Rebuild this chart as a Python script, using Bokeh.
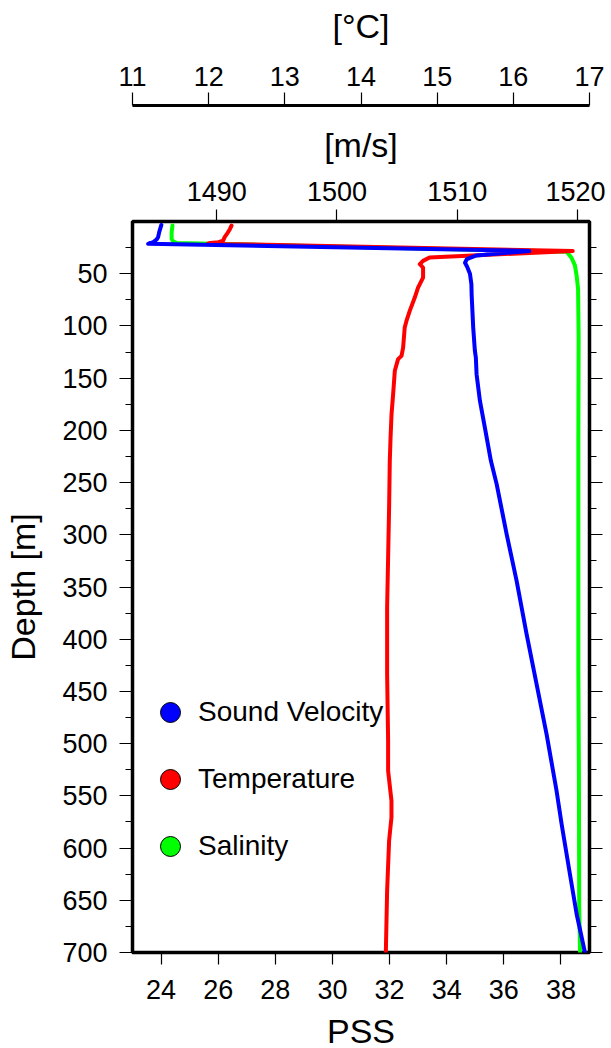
import numpy as np
from bokeh.plotting import figure
from bokeh.models import (Range1d, LinearAxis, FixedTicker, Legend, LegendItem,
                          ColumnDataSource)
from bokeh.embed import file_html
from bokeh.resources import INLINE

# ---------------- data ----------------
depth_sv = [3.3, 10.2, 15.0, 17.3, 19.8, 21.4, 28.2, 32.5, 36.0, 39.5, 44.0, 50.0,
            60.0, 70.0, 101.6, 123.9, 130.3, 146.2, 171.8, 197.3, 210.0, 229.2,
            251.5, 299.3, 344.1, 395.1, 443.0, 490.8, 545.1, 577.0, 624.8, 663.1, 700.0]
sound_velocity = [1485.40, 1485.22, 1485.13, 1485.00, 1484.73, 1484.30, 1516.00, 1511.60,
                  1510.80, 1510.65, 1510.85, 1511.06, 1511.18, 1511.20, 1511.33, 1511.47,
                  1511.55, 1511.61, 1511.89, 1512.30, 1512.50, 1512.80, 1513.28, 1514.11,
                  1514.94, 1515.77, 1516.60, 1517.43, 1518.26, 1518.68, 1519.37, 1519.93,
                  1520.62]

depth_t = [3.9, 7.1, 11.9, 15.0, 18.3, 19.8, 20.5, 21.2, 28.3, 34.4, 37.7, 40.9, 44.1,
           53.7, 63.3, 72.8, 85.6, 95.2, 101.6, 120.7, 128.7, 131.8, 143.0, 165.3, 184.5,
           206.9, 229.2, 273.9, 369.6, 433.4, 497.2, 525.9, 554.6, 570.6, 592.9, 640.8, 700.0]
temperature = [12.30, 12.28, 12.24, 12.21, 12.19, 12.13, 12.02, 11.99, 16.78, 14.90,
               14.815, 14.772, 14.815, 14.815, 14.749, 14.706, 14.640, 14.597, 14.574,
               14.553, 14.532, 14.487, 14.444, 14.422, 14.401, 14.388, 14.378, 14.369,
               14.343, 14.343, 14.356, 14.356, 14.400, 14.400, 14.369, 14.343, 14.326]

depth_s = [3.9, 10.2, 16.7, 19.2, 20.5, 28.9, 34.7, 42.0, 52.0, 64.5, 110.0, 210.0,
           430.0, 530.0, 657.0, 700.0]
salinity = [24.40, 24.37, 24.37, 24.43, 24.55, 38.20, 38.37, 38.49, 38.55, 38.60, 38.62,
            38.61, 38.61, 38.63, 38.64, 38.67]

pss_ticks = [24, 26, 28, 30, 32, 34, 36, 38]
vel_ticks = [1490, 1500, 1510, 1520]
temp_ticks = [11, 12, 13, 14, 15, 16, 17]
depth_ticks = list(range(50, 701, 50))
depth_minor = list(range(25, 700, 50))

series_labels = ["Sound Velocity", "Temperature", "Salinity"]
series_colors = ["#0000ff", "#ff0000", "#00ff00"]

# ---------------- figure ----------------
FONT = "Liberation Sans"
TICK_SIZE = "27px"
LABEL_SIZE = "34px"

p = figure(frame_width=457, frame_height=731,
           x_range=Range1d(23, 39), y_range=Range1d(700, 0),
           output_backend="svg", toolbar_location=None,
           min_border_left=132, min_border_right=16,
           min_border_top=221, min_border_bottom=0,
           x_axis_location="below", y_axis_location="left")
p.extra_x_ranges = {"vel": Range1d(1483, 1521), "temp": Range1d(11, 17)}
p.xgrid.visible = False
p.ygrid.visible = False
p.outline_line_color = "black"
p.outline_line_width = 3.5
p.outline_line_alpha = 1.0
p.background_fill_color = "white"
p.border_fill_color = "white"


def style_axis(ax, tick_out=12, minor_out=0):
    ax.axis_line_color = None
    ax.major_tick_in = 0
    ax.major_tick_out = tick_out
    ax.minor_tick_in = 0
    ax.minor_tick_out = minor_out
    ax.major_tick_line_color = "black"
    ax.major_tick_line_width = 1.2
    ax.minor_tick_line_color = "black" if minor_out else None
    ax.minor_tick_line_width = 1.2
    ax.major_label_text_font = FONT
    ax.major_label_text_font_size = TICK_SIZE
    ax.major_label_text_color = "black"
    ax.axis_label_text_font = FONT
    ax.axis_label_text_font_size = LABEL_SIZE
    ax.axis_label_text_font_style = "normal"
    ax.axis_label_text_color = "black"


# bottom (PSS)
xb = p.xaxis[0]
xb.ticker = FixedTicker(ticks=pss_ticks)
style_axis(xb, 12)
xb.axis_label = "PSS"
xb.major_label_standoff = 15
xb.axis_label_standoff = 10

# left (depth)
yl = p.yaxis[0]
yl.ticker = FixedTicker(ticks=depth_ticks, minor_ticks=depth_minor)
style_axis(yl, 13, 7)
yl.axis_label = "Depth [m]"
yl.major_label_standoff = 12
yl.axis_label_standoff = 17

# right (ticks only)
yr = LinearAxis(ticker=FixedTicker(ticks=depth_ticks, minor_ticks=depth_minor))
style_axis(yr, 13, 7)
yr.major_label_overrides = {t: "" for t in depth_ticks}
yr.major_label_standoff = 0
p.add_layout(yr, "right")

# top: sound velocity
ax_vel = LinearAxis(x_range_name="vel", ticker=FixedTicker(ticks=vel_ticks))
style_axis(ax_vel, 12)
ax_vel.axis_label = "[m/s]"
ax_vel.major_label_standoff = 9
ax_vel.axis_label_standoff = 15
p.add_layout(ax_vel, "above")

# spacer between the two top axes (one transparent tick, no label)
spacer = LinearAxis(x_range_name="vel", ticker=FixedTicker(ticks=[1502]))
spacer.axis_line_color = None
spacer.major_tick_line_color = "black"
spacer.major_tick_line_alpha = 0
spacer.minor_tick_line_color = None
spacer.major_tick_in = 0
spacer.major_tick_out = 17
spacer.major_label_overrides = {1502: ""}
spacer.major_label_text_font_size = "1px"
spacer.major_label_standoff = 0
p.add_layout(spacer, "above")

# top: temperature
ax_temp = LinearAxis(x_range_name="temp", ticker=FixedTicker(ticks=temp_ticks))
style_axis(ax_temp, 13)
ax_temp.axis_line_color = "black"
ax_temp.axis_line_width = 3
ax_temp.axis_label = "[°C]"
ax_temp.major_label_standoff = 7
ax_temp.axis_label_standoff = 19
p.add_layout(ax_temp, "above")

# ---------------- curves ----------------
src_s = ColumnDataSource(dict(x=salinity, y=depth_s))
src_t = ColumnDataSource(dict(x=temperature, y=depth_t))
src_v = ColumnDataSource(dict(x=sound_velocity, y=depth_sv))

p.line("x", "y", source=src_s, line_color=series_colors[2], line_width=4,
       line_join="round", line_cap="round")
p.line("x", "y", source=src_t, x_range_name="temp", line_color=series_colors[1],
       line_width=4, line_join="round", line_cap="round")
p.line("x", "y", source=src_v, x_range_name="vel", line_color=series_colors[0],
       line_width=4, line_join="round", line_cap="round")

# legend markers (a single NaN point: nothing on the plot, only legend icons)
items = []
for lab, col in zip(series_labels, series_colors):
    src = ColumnDataSource(dict(x=np.array([np.nan]), y=np.array([np.nan])))
    r = p.scatter("x", "y", source=src, marker="circle", size=20, fill_color=col,
                  line_color="black", line_width=1)
    items.append(LegendItem(label=lab, renderers=[r], index=0))

legend = Legend(items=items, location=(13, 81), glyph_width=50, glyph_height=50,
                label_standoff=3, spacing=17, padding=0, margin=0,
                border_line_color=None, background_fill_alpha=0,
                label_text_font=FONT, label_text_font_size="28px",
                label_text_color="black")
p.add_layout(legend)

open("out.html", "w").write(file_html(p, INLINE))
